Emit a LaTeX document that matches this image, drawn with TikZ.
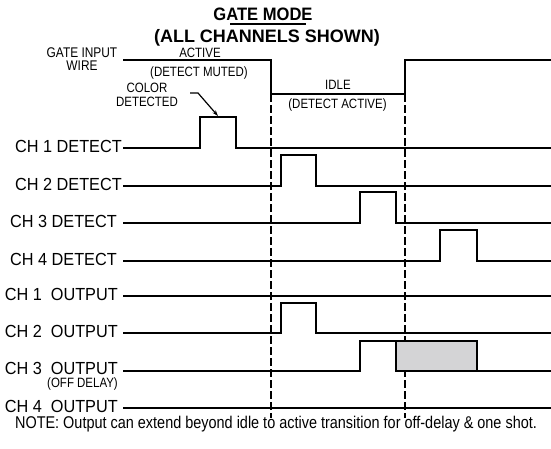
\documentclass[tikz,border=0pt]{standalone}
\usepackage{fontspec}
\setmainfont{Liberation Sans}
\newfontfamily\chfont[FakeStretch=0.93]{Liberation Sans}
\newfontfamily\smfont[FakeStretch=0.85]{Liberation Sans}
\newfontfamily\ttlfont[FakeStretch=0.92]{Liberation Sans}
\newfontfamily\ttlfontb[FakeStretch=1.0]{Liberation Sans}
\usetikzlibrary{arrows.meta}
\begin{document}
\begin{tikzpicture}[x=1pt,y=-1pt,
  lbl/.style={inner sep=0pt,anchor=base east,font=\chfont\fontsize{17.5}{17.5}\selectfont},
  sml/.style={inner sep=0pt,anchor=base,font=\smfont\fontsize{13.5}{13.5}\selectfont},
  sig/.style={line width=1.8pt,line join=miter},
  divider/.style={line width=1.4pt,dash pattern=on 8pt off 3pt}]
\useasboundingbox (0,0) rectangle (551,448);
\fill[white] (0,0) rectangle (551,448);
% title
\node[inner sep=0pt,anchor=base,font=\ttlfont\bfseries\fontsize{18}{18}\selectfont] (t1) at (263,20) {GATE MODE};
\node[inner sep=0pt,anchor=base,font=\ttlfontb\bfseries\fontsize{18}{18}\selectfont] (t2) at (267,42) {(ALL CHANNELS SHOWN)};
\draw[line width=1.2pt] (230,24) coordinate (u1) -- (306,24) coordinate (u2);
% gate input wire
\node[sml,font=\smfont\fontsize{14}{14}\selectfont] (gi1) at (82,57) {GATE INPUT};
\node[sml,font=\smfont\fontsize{14}{14}\selectfont] (gi2) at (82,70) {WIRE};
\node[sml] (act) at (200,57) {ACTIVE};
\node[sml] (mut) at (199,76) {(DETECT MUTED)};
\node[sml] (idle) at (338,89) {IDLE};
\node[sml] (dact) at (337.5,108) {(DETECT ACTIVE)};
\node[sml] (col1) at (147,92) {COLOR};
\node[sml] (col2) at (147,106) {DETECTED};
\coordinate (g0) at (123,60);
\draw[sig] (g0) -- (271,60) -- (271,94) -- (405,94) -- (405,60) -- (551,60);
% dividers
\coordinate (d1a) at (271,94); \coordinate (d1b) at (271,418);
\coordinate (d2a) at (405,94); \coordinate (d2b) at (405,418);
\draw[divider] (d1a) -- (d1b);
\draw[divider] (d2a) -- (d2b);
% labels
\node[lbl] (c1d) at (122,152) {CH 1 DETECT};
\node[lbl] (c2d) at (122,190) {CH 2 DETECT};
\node[lbl] (c3d) at (117,227) {CH 3 DETECT};
\node[lbl] (c4d) at (117,265) {CH 4 DETECT};
\node[lbl] (c1o) at (118,300) {CH 1\ \ OUTPUT};
\node[lbl] (c2o) at (118,337) {CH 2\ \ OUTPUT};
\node[lbl] (c3o) at (118,374) {CH 3\ \ OUTPUT};
\node[inner sep=0pt,anchor=base east,font=\smfont\fontsize{13.5}{13.5}\selectfont] (offd) at (118,387) {(OFF DELAY)};
\node[lbl] (c4o) at (118,412) {CH 4\ \ OUTPUT};
% waveforms
\draw[sig] (123,148) -- (200,148) -- (200,117) coordinate (p1) -- (236,117) -- (236,148) -- (551,148);
\draw[sig] (123,186) -- (281,186) -- (281,155) -- (316,155) -- (316,186) -- (551,186);
\draw[sig] (123,223) -- (360,223) -- (360,192) -- (396,192) -- (396,223) -- (551,223);
\draw[sig] (123,261) -- (440,261) -- (440,230) -- (477,230) -- (477,261) -- (551,261);
\draw[sig] (123,296) -- (551,296);
\draw[sig] (123,333) -- (281,333) -- (281,303) -- (316,303) -- (316,333) -- (551,333);
\draw[sig,fill={rgb,255:red,212;green,212;blue,214}] (396,341) rectangle (477,371);
\draw[sig] (123,371) -- (360,371) -- (360,341) -- (396,341) -- (396,371) -- (551,371);
\draw[sig] (123,408) -- (551,408);
% arrow
\coordinate (a0) at (190,93);
\coordinate (a2) at (218,116);
\draw[line width=1.2pt,-{Stealth[length=6pt,width=4pt]}] (a0) -- (198,93) -- (a2);
% note
\node[inner sep=0pt,anchor=base,font=\smfont\fontsize{17}{17}\selectfont] (note) at (276,428) {NOTE: Output can extend beyond idle to active transition for off-delay \& one shot.};
\end{tikzpicture}
\end{document}
